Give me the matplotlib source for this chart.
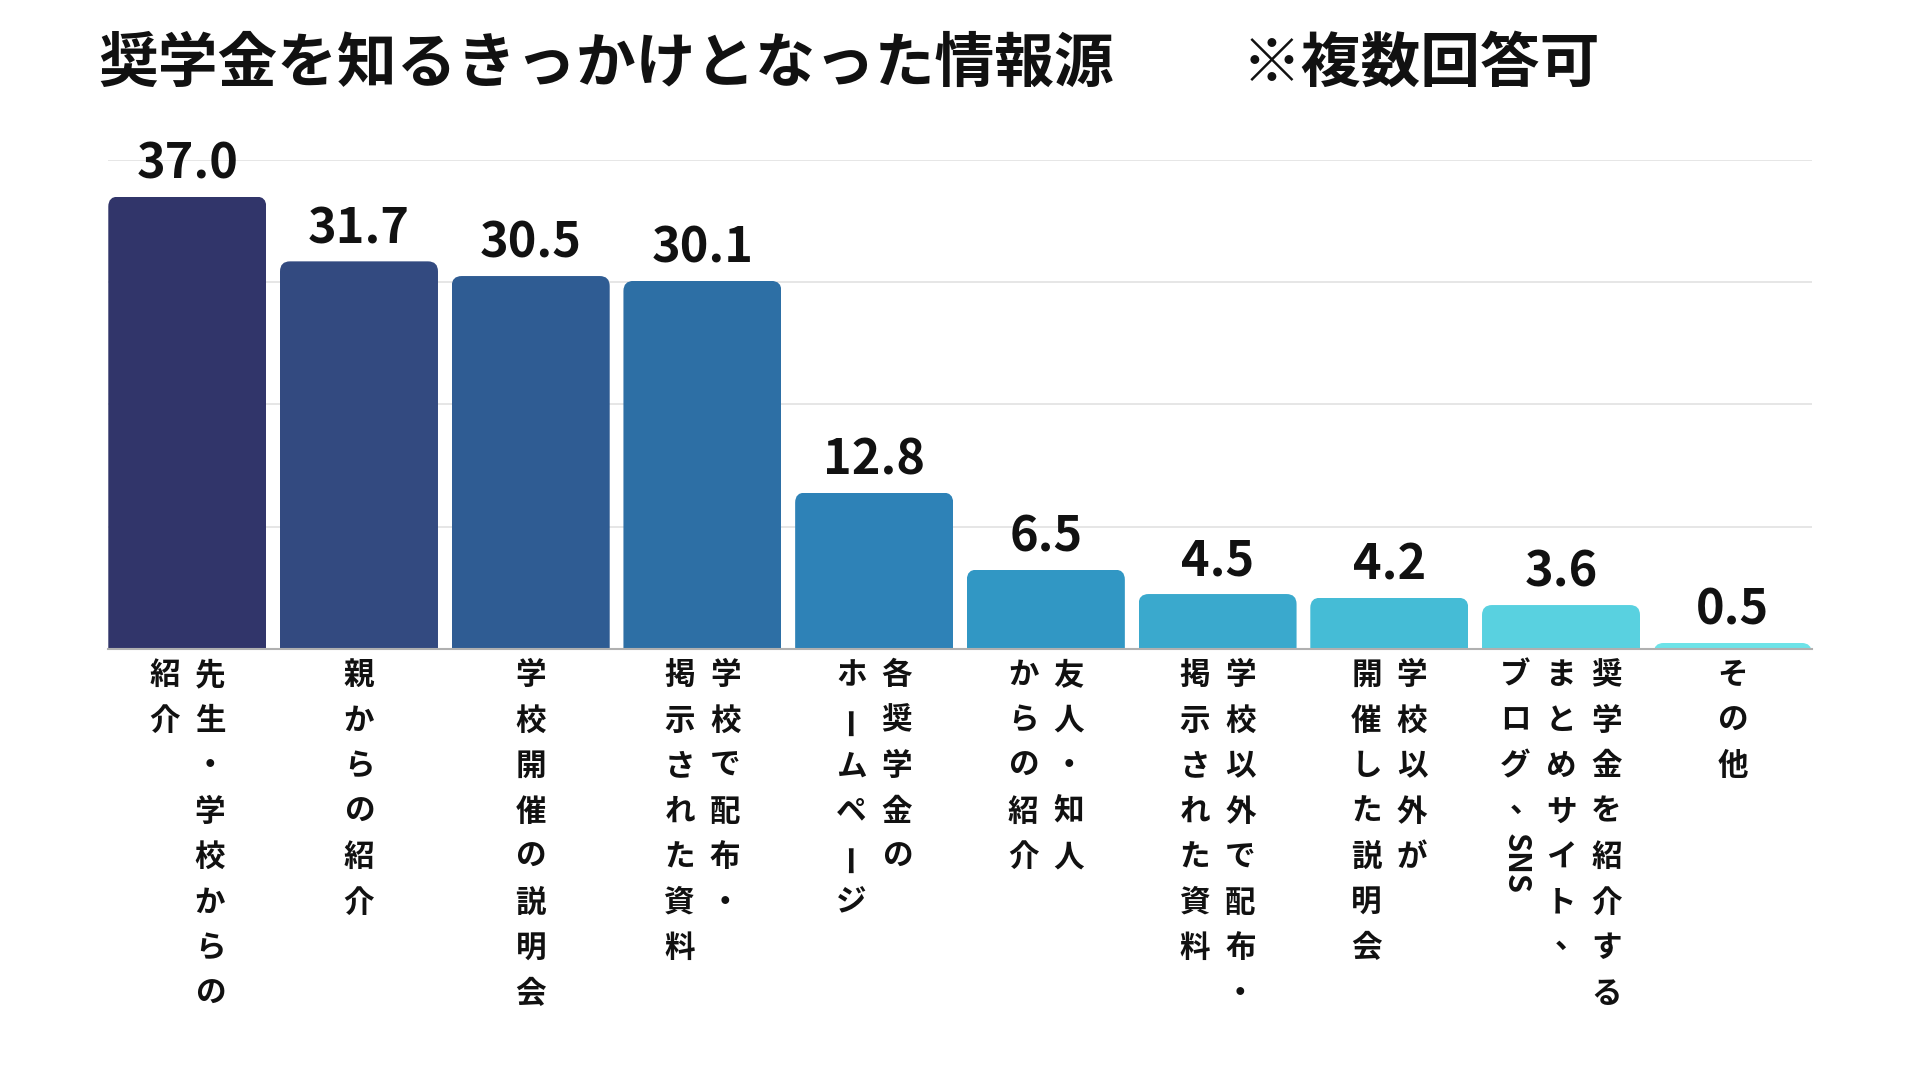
import matplotlib
matplotlib.use('Agg')
import matplotlib.pyplot as plt
from matplotlib.patches import FancyBboxPatch
import numpy as np

# ---------------- data ----------------
title_main = "奨学金を知るきっかけとなった情報源"
title_note = "※複数回答可"

categories = [
    "先生・学校からの紹介",
    "親からの紹介",
    "学校開催の説明会",
    "学校で配布・掲示された資料",
    "各奨学金のホームページ",
    "友人・知人からの紹介",
    "学校以外で配布・掲示された資料",
    "学校以外が開催した説明会",
    "奨学金を紹介するまとめサイト、ブログ、SNS",
    "その他",
]
# vertical-writing columns (right to left) for each category
label_columns = [
    ["先生・学校からの", "紹介"],
    ["親からの紹介"],
    ["学校開催の説明会"],
    ["学校で配布・", "掲示された資料"],
    ["各奨学金の", "ホームページ"],
    ["友人・知人", "からの紹介"],
    ["学校以外で配布・", "掲示された資料"],
    ["学校以外が", "開催した説明会"],
    ["奨学金を紹介する", "まとめサイト、", "ブログ、SNS"],
    ["その他"],
]
values = [37.0, 31.7, 30.5, 30.1, 12.8, 6.5, 4.5, 4.2, 3.6, 0.5]
colors = ["#31356a", "#334a80", "#2f5c93", "#2d6fa5", "#2e82b7",
          "#3197c4", "#3aa9cd", "#45bcd6", "#59d1e0", "#6de3e8"]

# ---------------- style ----------------
plt.rcParams['font.family'] = ['Noto Sans CJK JP', 'DejaVu Sans']

W_PX, H_PX = 1920, 1080
fig = plt.figure(figsize=(W_PX / 100, H_PX / 100), dpi=100)
fig.patch.set_facecolor('white')

ax_left, ax_bottom = 0.0564, 0.399
ax_width, ax_height = 0.9436 - 0.0564, 0.852 - 0.399
ax = fig.add_axes([ax_left, ax_bottom, ax_width, ax_height])

x = np.arange(len(values))
bar_w = 0.92
bars = ax.bar(x, values, width=bar_w, color=colors, zorder=3, linewidth=0)

xlim = (-0.46, len(values) - 1 + 0.46)
ylim = (0, 40)
ax.set_xlim(*xlim)
ax.set_ylim(*ylim)
ax.set_yticks([0, 10, 20, 30, 40])
ax.yaxis.grid(True, color='#e2e2e2', linewidth=1.2, zorder=0)
ax.set_axisbelow(True)
ax.tick_params(left=False, bottom=False, labelleft=False, labelbottom=False)
for s in ['top', 'left', 'right']:
    ax.spines[s].set_visible(False)
ax.spines['bottom'].set_color('#b0b0b0')
ax.spines['bottom'].set_linewidth(1.5)
ax.spines['bottom'].set_zorder(4)

# rounded top corners via clip paths
px_per_x = ax_width * W_PX / (xlim[1] - xlim[0])
px_per_y = ax_height * H_PX / (ylim[1] - ylim[0])
r_px = 10
rx = r_px / px_per_x
ry = r_px / px_per_y
for rect in bars:
    x0, w, h = rect.get_x(), rect.get_width(), rect.get_height()
    clip = FancyBboxPatch((x0, -2 * ry), w, h + 2 * ry,
                          boxstyle=f"round,pad=0,rounding_size={rx}",
                          mutation_aspect=ry / rx,
                          transform=ax.transData)
    rect.set_clip_path(clip)

# value labels
for xi, v in zip(x, values):
    ax.annotate(f"{v:.1f}", xy=(xi, v), xytext=(0, 13),
                textcoords='offset points', ha='center', va='baseline',
                fontsize=35, fontweight='bold', color='#111111',
                annotation_clip=False)


def tokenize(s):
    toks, buf = [], ""
    for ch in s:
        if ch.isascii() and ch.isalnum():
            buf += ch
        else:
            if buf:
                toks.append(buf)
                buf = ""
            toks.append(ch)
    if buf:
        toks.append(buf)
    return toks


# vertical category labels
pitch = 32.8          # points between characters / columns
first = 18.7          # points below baseline of the first character centre
fs_lab = 22
for xi, cols in zip(x, label_columns):
    n = len(cols)
    for j, col in enumerate(cols):
        dx = ((n - 1) / 2 - j) * pitch
        cur = 0.0
        for tok in tokenize(col):
            if len(tok) > 1:
                L = len(tok) * 0.42
                centre = cur - 0.5 + L / 2
                ax.annotate(tok, xy=(xi, 0), xytext=(dx, -(first + centre * pitch)),
                            textcoords='offset points', ha='center', va='center',
                            fontsize=fs_lab, fontweight='bold', rotation=-90,
                            color='#111111', annotation_clip=False)
                cur += L
                continue
            rot = 0
            ox, oy = 0, 0
            if tok == "ー":
                rot = 90
            elif tok == "、":
                ox, oy = 0.3 * fs_lab, 0.3 * fs_lab
            ax.annotate(tok, xy=(xi, 0),
                        xytext=(dx + ox, -(first + cur * pitch) + oy),
                        textcoords='offset points', ha='center', va='center',
                        fontsize=fs_lab, fontweight='bold', rotation=rot,
                        color='#111111', annotation_clip=False)
            cur += 1

# title
fig.text(98 / W_PX, 0.94, title_main, fontsize=43, fontweight='bold',
         va='center', ha='left', color='#111111')
fig.text(1242 / W_PX, 0.94, title_note, fontsize=43, fontweight='bold',
         va='center', ha='left', color='#111111')

fig.savefig('out.png', dpi=100, facecolor='white')
